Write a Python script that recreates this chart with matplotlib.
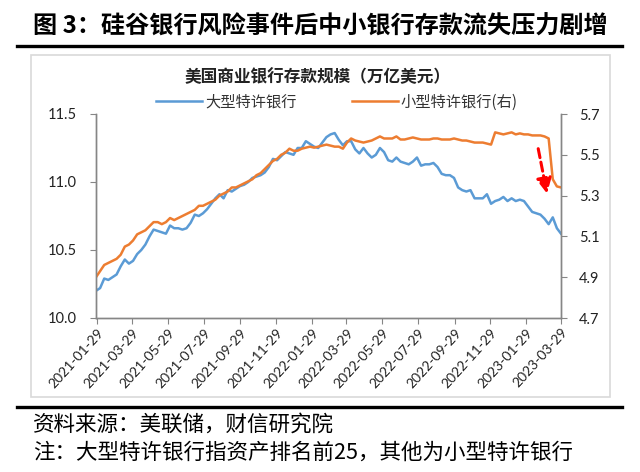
import matplotlib
matplotlib.use("Agg")
import matplotlib.pyplot as plt
from matplotlib.lines import Line2D
from matplotlib.patches import Rectangle
import pandas as pd

plt.rcParams['font.family'] = ['Noto Sans CJK SC', 'DejaVu Sans']

title = "图 3：硅谷银行风险事件后中小银行存款流失压力剧增"
chart_title = "美国商业银行存款规模（万亿美元）"
label_large = "大型特许银行"
label_small = "小型特许银行(右)"
source_text = "资料来源：美联储，财信研究院"
note_text = "注：大型特许银行指资产排名前25，其他为小型特许银行"

dates = pd.date_range(end="2023-03-29", periods=114, freq="7D")

large_banks = [
    10.20, 10.22, 10.29, 10.28, 10.30, 10.32, 10.38, 10.43, 10.40, 10.42,
    10.47, 10.50, 10.54, 10.60, 10.65, 10.64, 10.63, 10.62, 10.68, 10.66,
    10.66, 10.65, 10.66, 10.70, 10.76, 10.75, 10.77, 10.80, 10.84, 10.88,
    10.91, 10.88, 10.94, 10.93, 10.95, 10.97, 10.98, 11.00, 11.03, 11.04,
    11.05, 11.07, 11.11, 11.17, 11.16, 11.19, 11.22, 11.21, 11.20, 11.25,
    11.25, 11.30, 11.28, 11.26, 11.25, 11.29, 11.33, 11.35, 11.36, 11.31,
    11.27, 11.30, 11.30, 11.24, 11.21, 11.25, 11.21, 11.18, 11.20, 11.25,
    11.22, 11.16, 11.15, 11.18, 11.15, 11.14, 11.13, 11.15, 11.18, 11.12,
    11.13, 11.13, 11.14, 11.11, 11.06, 11.05, 11.05, 11.03, 10.96, 10.94,
    10.93, 10.94, 10.88, 10.88, 10.88, 10.91, 10.84, 10.86, 10.87, 10.89,
    10.86, 10.88, 10.86, 10.87, 10.86, 10.82, 10.78, 10.77, 10.76, 10.73,
    10.69, 10.74, 10.66, 10.62,
]

small_banks = [
    4.90, 4.93, 4.96, 4.97, 4.98, 4.99, 5.01, 5.05, 5.06, 5.08,
    5.11, 5.12, 5.13, 5.15, 5.17, 5.17, 5.16, 5.17, 5.19, 5.18,
    5.19, 5.20, 5.21, 5.22, 5.23, 5.25, 5.25, 5.26, 5.27, 5.28,
    5.30, 5.31, 5.32, 5.34, 5.34, 5.35, 5.36, 5.37, 5.38, 5.40,
    5.41, 5.43, 5.45, 5.47, 5.48, 5.50, 5.51, 5.53, 5.52, 5.52,
    5.53, 5.535, 5.54, 5.535, 5.54, 5.545, 5.55, 5.545, 5.54, 5.54,
    5.53, 5.56, 5.58, 5.57, 5.565, 5.56, 5.565, 5.57, 5.58, 5.59,
    5.58, 5.58, 5.58, 5.59, 5.575, 5.575, 5.58, 5.585, 5.58, 5.575,
    5.575, 5.575, 5.58, 5.58, 5.575, 5.575, 5.575, 5.58, 5.575, 5.57,
    5.57, 5.565, 5.56, 5.56, 5.56, 5.555, 5.55, 5.61, 5.605, 5.60,
    5.605, 5.61, 5.60, 5.605, 5.60, 5.60, 5.595, 5.595, 5.595, 5.59,
    5.58, 5.38, 5.345, 5.34,
]

tick_labels = ["2021-01-29", "2021-03-29", "2021-05-29", "2021-07-29",
               "2021-09-29", "2021-11-29", "2022-01-29", "2022-03-29",
               "2022-05-29", "2022-07-29", "2022-09-29", "2022-11-29",
               "2023-01-29", "2023-03-29"]
left_ticks = [10.0, 10.5, 11.0, 11.5]
right_ticks = [4.7, 4.9, 5.1, 5.3, 5.5, 5.7]

blue = "#5B9BD5"
orange = "#ED7D31"
spine_gray = "#868686"

fig = plt.figure(figsize=(6.4, 4.72), dpi=100)

# outer chart frame
fig.patches.append(Rectangle((31/640, 1-397/472), (610-31)/640, (397-55)/472,
                             transform=fig.transFigure, fill=False,
                             edgecolor="#d9d9d9", linewidth=1.2))
# title rule lines
fig.add_artist(Line2D([17/640, 622/640], [1-46/472, 1-46/472],
                      transform=fig.transFigure, color="black", linewidth=2.4))
fig.add_artist(Line2D([17/640, 622/640], [1-407/472, 1-407/472],
                      transform=fig.transFigure, color="black", linewidth=2.4))

fig.text(33/640, 1-27/472, title, fontsize=17.4, fontweight="bold",
         ha="left", va="center", color="black")
fig.text(318/640, 1-77/472, chart_title, fontsize=12, fontweight="bold",
         ha="center", va="center", color="#222222")
fig.text(33/640, 1-425/472, source_text, fontsize=15.5, ha="left", va="center",
         color="black")
fig.text(33/640, 1-453/472, note_text, fontsize=15.5, ha="left", va="center",
         color="black")

ax = fig.add_axes([96/640, 1-318/472, (561-96)/640, (318-114)/472])
ax2 = ax.twinx()

l1, = ax.plot(dates, large_banks, color=blue, linewidth=1.8)
l2, = ax2.plot(dates, small_banks, color=orange, linewidth=1.8)

ax.set_xlim(dates[0], dates[-1])
ax.set_ylim(10.0, 11.5)
ax2.set_ylim(4.7, 5.7)
ax.set_yticks(left_ticks)
ax.set_yticklabels([f"{v:.1f}" for v in left_ticks])
ax2.set_yticks(right_ticks)
ax2.set_yticklabels([f"{v:.1f}" for v in right_ticks])

tick_dates = pd.to_datetime(tick_labels)
ax.set_xticks(tick_dates)
ax.set_xticklabels(tick_labels, rotation=48, ha="right", rotation_mode="anchor")

for a in (ax, ax2):
    a.spines["top"].set_visible(False)
    for s in ("left", "right", "bottom"):
        a.spines[s].set_color(spine_gray)
        a.spines[s].set_linewidth(1.0)
    a.tick_params(axis="both", direction="out", length=4, color=spine_gray,
                  labelsize=10.5, labelcolor="#222222")
ax.tick_params(axis="y", pad=10)
ax2.tick_params(axis="y", pad=9)
ax.tick_params(axis="x", labelsize=10, pad=2)
for lab in ax.get_xticklabels() + ax.get_yticklabels() + ax2.get_yticklabels():
    lab.set_fontfamily(["Lato", "DejaVu Sans"])

ax.patch.set_visible(False)

ax2.annotate("", xy=(0.970, 0.610), xytext=(0.951, 0.830),
             xycoords="axes fraction", textcoords="axes fraction",
             arrowprops=dict(arrowstyle="-|>,head_length=0.9,head_width=0.45",
                             color="#FF0000", linewidth=2.2, linestyle=(0, (3, 1.5)),
                             shrinkA=0, shrinkB=0))

fig.legend([l1, l2], [label_large, label_small], ncol=2, loc="center",
           bbox_to_anchor=(337/640, 1-102/472), frameon=False, fontsize=11,
           handlelength=3.0, handletextpad=0.2, columnspacing=3.6,
           labelcolor="#333333")

fig.savefig("out.png", dpi=100)
